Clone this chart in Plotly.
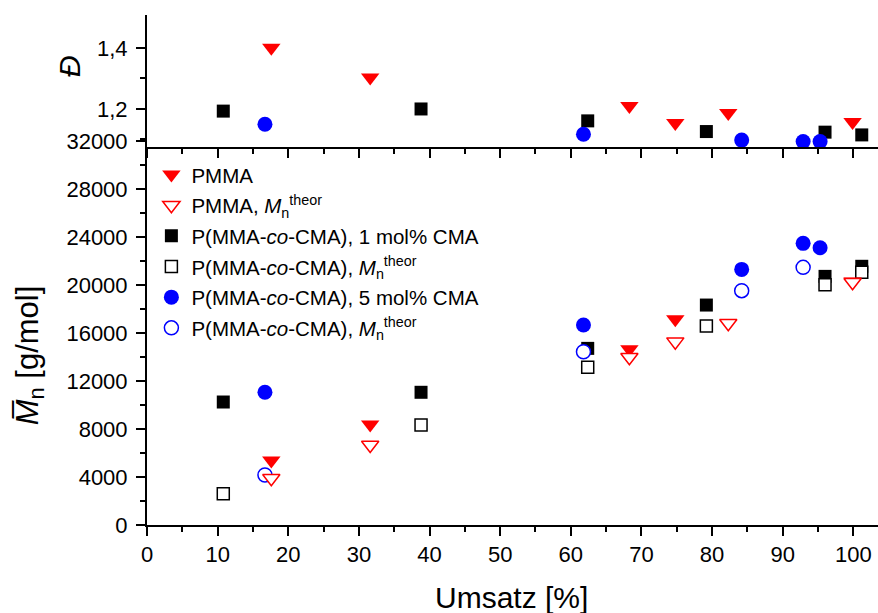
import plotly.graph_objects as go

# ---- data ----
x_pmma = [17.6, 31.6, 68.3, 74.8, 82.3, 99.9]
D_pmma = [1.401, 1.303, 1.210, 1.154, 1.187, 1.157]
Mn_pmma = [5380, 8370, 14650, 17150, None, 20300]
Mn_pmma_theor = [3900, 6670, 13980, 15280, 16820, 20230]

x_sq = [10.8, 38.8, 62.4, 79.2, 96.0, 101.2]
D_sq = [1.193, 1.200, 1.161, 1.126, 1.124, 1.115]
Mn_sq = [10250, 11060, 14720, 18330, 20720, 21560]
Mn_sq_theor = [2600, 8330, 13140, 16580, 20030, 21060]

x_ci = [16.7, 61.8, 84.2, 92.9, 95.3]
D_ci = [1.150, 1.117, 1.098, 1.093, 1.093]
Mn_ci = [11060, 16670, 21300, 23470, 23100]
Mn_ci_theor = [4170, 14440, 19530, 21470, None]

x_ticks = [0, 10, 20, 30, 40, 50, 60, 70, 80, 90, 100]
mn_ticks = [0, 4000, 8000, 12000, 16000, 20000, 24000, 28000, 32000]
mn_ticktext = ["0", "4000", "8000", "12000", "16000", "20000", "24000", "28000", "32000"]
d_ticks = [1.2, 1.4]
d_ticktext = ["1,2", "1,4"]

names = [
    "PMMA",
    "PMMA, <i>M</i><sub>n</sub><sup>theor</sup>",
    "P(MMA-<i>co</i>-CMA), 1 mol% CMA",
    "P(MMA-<i>co</i>-CMA), <i>M</i><sub>n</sub><sup>theor</sup>",
    "P(MMA-<i>co</i>-CMA), 5 mol% CMA",
    "P(MMA-<i>co</i>-CMA), <i>M</i><sub>n</sub><sup>theor</sup>",
]

RED = "#ff0000"
BLUE = "#0000ff"
BLACK = "#000000"
FONT = "Liberation Sans, Arial, sans-serif"

fig = go.Figure()

def filled(sym, col, size):
    return dict(symbol=sym, color=col, size=size, line=dict(width=0))

def hollow(sym, col, size):
    return dict(symbol=sym, color="white", size=size, line=dict(width=1.5, color=col))

# lower panel (draw order: squares, circles, triangles)
fig.add_trace(go.Scatter(x=x_sq, y=Mn_sq, mode="markers", name=names[2], legendrank=3,
                         legendgroup="c", marker=filled("square", BLACK, 13)))
fig.add_trace(go.Scatter(x=x_sq, y=Mn_sq_theor, mode="markers", name=names[3], legendrank=4,
                         legendgroup="d", marker=hollow("square", BLACK, 12)))
fig.add_trace(go.Scatter(x=x_ci, y=Mn_ci, mode="markers", name=names[4], legendrank=5,
                         legendgroup="e", marker=filled("circle", BLUE, 15)))
fig.add_trace(go.Scatter(x=x_ci, y=Mn_ci_theor, mode="markers", name=names[5], legendrank=6,
                         legendgroup="f", marker=hollow("circle", BLUE, 14)))
fig.add_trace(go.Scatter(x=x_pmma, y=Mn_pmma, mode="markers", name=names[0], legendrank=1,
                         legendgroup="a", marker=filled("triangle-down", RED, 16)))
fig.add_trace(go.Scatter(x=x_pmma, y=Mn_pmma_theor, mode="markers", name=names[1], legendrank=2,
                         legendgroup="b", marker=hollow("triangle-down", RED, 15)))

# upper panel
fig.add_trace(go.Scatter(x=x_sq, y=D_sq, mode="markers", xaxis="x2", yaxis="y2", showlegend=False,
                         marker=filled("square", BLACK, 13)))
fig.add_trace(go.Scatter(x=x_ci, y=D_ci, mode="markers", xaxis="x2", yaxis="y2", showlegend=False,
                         marker=filled("circle", BLUE, 15)))
fig.add_trace(go.Scatter(x=x_pmma, y=D_pmma, mode="markers", xaxis="x2", yaxis="y2", showlegend=False,
                         marker=filled("triangle-down", RED, 16)))

axis_common = dict(showline=True, linecolor="black", linewidth=2, showgrid=False, zeroline=False,
                   ticks="outside", tickcolor="black", tickwidth=2, ticklen=9)

fig.update_layout(
    width=878, height=613,
    margin=dict(l=147, r=0, t=15, b=88),
    paper_bgcolor="white", plot_bgcolor="white",
    font=dict(family=FONT, size=22, color="black"),
    xaxis=dict(domain=[0, 1], range=[0, 103.5], anchor="y",
               tickmode="array", tickvals=x_ticks,
               minor=dict(dtick=5, tick0=0, ticks="outside", ticklen=5, tickwidth=2, tickcolor="black"),
               tickfont=dict(size=22), **axis_common),
    yaxis=dict(domain=[0, 0.7529], range=[0, 32000], anchor="x",
               tickmode="array", tickvals=mn_ticks, ticktext=mn_ticktext, ticklabelstandoff=4,
               minor=dict(dtick=2000, tick0=0, ticks="outside", ticklen=5, tickwidth=2, tickcolor="black"),
               tickfont=dict(size=22), **axis_common),
    xaxis2=dict(domain=[0, 1], range=[0, 103.5], anchor="y2", matches="x", showticklabels=False,
                tickmode="array", tickvals=x_ticks,
                minor=dict(dtick=5, tick0=0, ticks="outside", ticklen=5, tickwidth=2, tickcolor="black"),
                **axis_common),
    yaxis2=dict(domain=[0.7412, 1.0], range=[1.0754, 1.508], anchor="x2",
                tickmode="array", tickvals=d_ticks, ticktext=d_ticktext, ticklabelstandoff=4,
                minor=dict(tickmode="array", tickvals=[1.1, 1.3], ticks="outside", ticklen=5,
                           tickwidth=2, tickcolor="black"),
                tickfont=dict(size=22), **axis_common),
    legend=dict(x=0.006, y=0.726, xanchor="left", yanchor="top", bgcolor="rgba(0,0,0,0)",
                font=dict(family=FONT, size=20.5, color="black"), traceorder="grouped",
                tracegroupgap=1, itemsizing="trace"),
    showlegend=True,
)

fig.add_annotation(xref="paper", yref="paper", x=0.498, y=-0.143, xanchor="center", yanchor="middle",
                   text="Umsatz [%]", showarrow=False, font=dict(family=FONT, size=30))
fig.add_annotation(xref="paper", yref="paper", x=-0.16, y=0.333, xanchor="center", yanchor="middle",
                   text="<i>M\u0305</i><sub>n</sub> [g/mol]", textangle=-90, showarrow=False,
                   font=dict(family=FONT, size=31))
fig.add_annotation(xref="paper", yref="paper", x=-0.105, y=0.90, xanchor="center", yanchor="middle",
                   text="<i>Đ</i>", textangle=-90, showarrow=False, font=dict(family=FONT, size=30))

fig.write_html("out.html")
